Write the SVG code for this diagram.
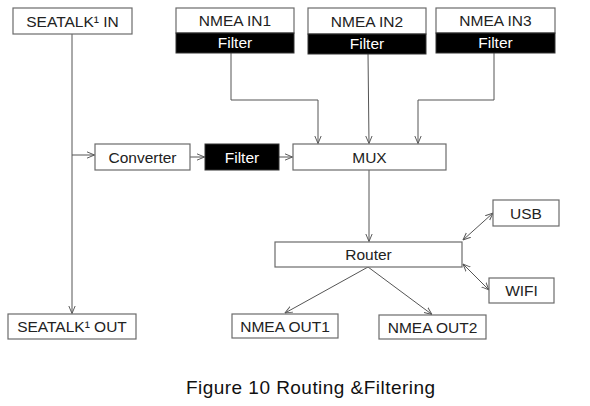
<svg xmlns="http://www.w3.org/2000/svg" width="590" height="406" viewBox="0 0 590 406">
<style>
.box{fill:#fff;stroke:#6b6b6b;stroke-width:1.2}
.blk{fill:#000;stroke:#333;stroke-width:1}
.t{font-family:"Liberation Sans",Arial,sans-serif;font-size:15.5px;fill:#222;text-anchor:middle}
.w{fill:#fff}
.c{fill:none;stroke:#555;stroke-width:1}
.cap{font-family:"Liberation Sans",Arial,sans-serif;font-size:19px;fill:#111}
</style>
<defs>
<marker id="ah" viewBox="0 0 10 10" refX="9.5" refY="5" markerWidth="8" markerHeight="8" markerUnits="userSpaceOnUse" orient="auto-start-reverse">
<path d="M0,1 L9.5,5 L0,9" fill="none" stroke="#555" stroke-width="1.2"/>
</marker>
</defs>
<g id="connectors">
<path class="c" d="M72,34 V313.5" marker-end="url(#ah)"/>
<path class="c" d="M72,155 H94.5" marker-end="url(#ah)"/>
<path class="c" d="M190,157 H204.5" marker-end="url(#ah)"/>
<path class="c" d="M279,157 H292.5" marker-end="url(#ah)"/>
<path class="c" d="M231,53 V100 H318 V143.5" marker-end="url(#ah)"/>
<path class="c" d="M368,53 L369,143.5" marker-end="url(#ah)"/>
<path class="c" d="M494,53 V100 H418 V143.5" marker-end="url(#ah)"/>
<path class="c" d="M369,170 V241.5" marker-end="url(#ah)"/>
<path class="c" d="M463,240 L493,213" marker-start="url(#ah)" marker-end="url(#ah)"/>
<path class="c" d="M463,264 L489,290" marker-start="url(#ah)" marker-end="url(#ah)"/>
<path class="c" d="M368,267 L285,313" marker-end="url(#ah)"/>
<path class="c" d="M368,267 L432,314.5" marker-end="url(#ah)"/>
</g>
<g id="seatalk-in"><rect class="box" x="13" y="8" width="119" height="26"/><text class="t" x="72.5" y="26.5">SEATALK¹ IN</text></g>
<g id="nmea-in1"><rect class="box" x="176" y="8" width="118" height="25"/><rect class="blk" x="176" y="33" width="118" height="20"/><text class="t" x="235" y="26">NMEA IN1</text><text class="t w" x="235" y="48">Filter</text></g>
<g id="nmea-in2"><rect class="box" x="308" y="8" width="118" height="26"/><rect class="blk" x="308" y="34" width="118" height="20"/><text class="t" x="367" y="26.5">NMEA IN2</text><text class="t w" x="367" y="49">Filter</text></g>
<g id="nmea-in3"><rect class="box" x="436" y="8" width="119" height="25"/><rect class="blk" x="436" y="33" width="119" height="20"/><text class="t" x="495.5" y="26">NMEA IN3</text><text class="t w" x="495.5" y="48">Filter</text></g>
<g id="converter"><rect class="box" x="95" y="144" width="95" height="26"/><text class="t" x="142.5" y="162.5">Converter</text></g>
<g id="filter"><rect class="blk" x="205" y="144" width="74" height="26"/><text class="t w" x="242" y="162.5">Filter</text></g>
<g id="mux"><rect class="box" x="293" y="144" width="153" height="26"/><text class="t" x="369.5" y="162.5">MUX</text></g>
<g id="router"><rect class="box" x="275" y="242" width="187" height="25"/><text class="t" x="368.5" y="260">Router</text></g>
<g id="usb"><rect class="box" x="493" y="200" width="66" height="26"/><text class="t" x="526" y="218.5">USB</text></g>
<g id="wifi"><rect class="box" x="489" y="278" width="65" height="25"/><text class="t" x="521.5" y="296">WIFI</text></g>
<g id="seatalk-out"><rect class="box" x="8" y="314" width="128" height="25"/><text class="t" x="72" y="332">SEATALK¹ OUT</text></g>
<g id="nmea-out1"><rect class="box" x="232" y="314" width="106" height="24"/><text class="t" x="285" y="331.5">NMEA OUT1</text></g>
<g id="nmea-out2"><rect class="box" x="379" y="315" width="107" height="24"/><text class="t" x="432.5" y="332.5">NMEA OUT2</text></g>
<text class="cap" x="186" y="394" textLength="249" lengthAdjust="spacing">Figure 10 Routing &amp;Filtering</text>
</svg>
